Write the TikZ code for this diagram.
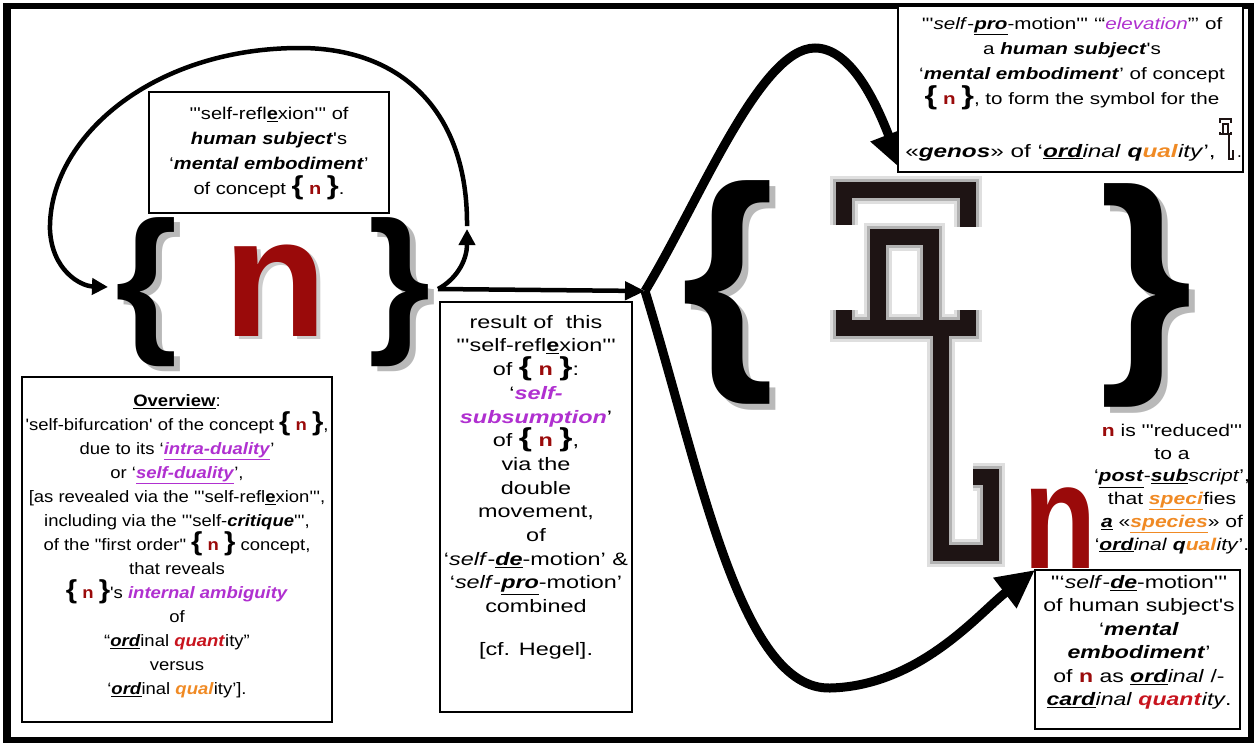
\documentclass[tikz,border=0pt]{standalone}
\usepackage{fontspec}
\setmainfont{Liberation Sans}[Ligatures=TeXOff]
\usepackage{graphicx}
\usetikzlibrary{arrows.meta}
\definecolor{nred}{HTML}{9A0A0A}
\definecolor{vio}{HTML}{B030D0}
\definecolor{orng}{HTML}{F08A24}
\definecolor{qred}{HTML}{C8141E}
\definecolor{glyphc}{HTML}{1E1414}
\newcommand\BI[1]{\textbf{\textit{#1}}}
\newcommand\UBI[1]{\underline{\textbf{\textit{#1}}}}
\newcommand\PB[1]{\textcolor{vio}{\textbf{\textit{#1}}}}
\newcommand\PU[1]{\textcolor{vio}{\underline{\textbf{\textit{#1}}}}}
\newcommand\brn{{\fontsize{26}{26}\selectfont\textbf{\{}} \textcolor{nred}{\textbf{n}} {\fontsize{26}{26}\selectfont\textbf{\}}}}
\newcommand\refl{'''self-refl\underline{\textbf{e}}xion'''}
\newcommand\ordglyph{%
  (11,45) -- (11,10) -- (135,10) -- (135,47)
  (45,57) rectangle (98,148)
  (11,130) -- (11,148) -- (135,148) -- (135,130)
  (108,148) -- (108,373) -- (158,373) -- (158,297) -- (140,297)}
\tikzset{
  txt/.style={align=center, inner sep=0pt, anchor=north, transform shape},
  box/.style={draw, line width=1.5pt, inner sep=0pt, fill=white},
  bigbr/.style={inner sep=0pt, font=\fontsize{160}{160}\selectfont\bfseries},
  hugebr/.style={inner sep=0pt, font=\fontsize{240}{240}\selectfont\bfseries},
  thinarr/.style={line width=4.5pt, -{Triangle[length=16pt,width=16pt]}},
  thickarr/.style={line width=9pt, -{Triangle[length=38pt,width=36pt]}},
}
\begin{document}
\begin{tikzpicture}[x=1pt,y=-1pt]
\useasboundingbox (0,0) rectangle (1257,745);
\fill[white] (0,0) rectangle (1257,745);
\draw[line width=6pt] (6,6) rectangle (1251,740);
\draw[line width=3pt] (9,6) -- (9,740);

% ---------- left group ----------
\node[bigbr, text=gray!55] (lbs) at (153,297) {\{};
\node[bigbr] (lb) at (147,292) {\{};
\node[bigbr, text=gray!55] (rbs) at (406,297) {\}};
\node[bigbr] (rb) at (400,292) {\}};
\node[inner sep=0pt, font=\fontsize{170}{170}\selectfont\bfseries, text=gray!40] (ns) at (279,294) {n};
\node[inner sep=0pt, font=\fontsize{170}{170}\selectfont\bfseries, text=nred] (n) at (275,291) {n};

% box A
\node[box, minimum width=240pt, minimum height=121pt] (boxA) at (269,152.5) {};
\begin{scope}[shift={(269,107)}, xscale=1.18]
\node[txt, font=\fontsize{17}{25}\selectfont] (tA) at (0,0) {\refl{} of\\
\BI{human subject}'s\\
‘\BI{mental embodiment}’\\
of concept \brn.};
\end{scope}

% arcs
\coordinate (jn) at (467,226);
\coordinate (rbout) at (438,289);
\coordinate (lbin) at (108,287);
\draw[thinarr] (jn) .. controls (468,110) and (400,48) .. (300,48)
  .. controls (150,48) and (48,140) .. (50,230)
  .. controls (52,270) and (80,286) .. (lbin);
\draw[thinarr] (rbout) .. controls (455,280) and (467,262) .. (467,229);

% overview box
\node[box, minimum width=310pt, minimum height=345pt] (boxO) at (177,549.5) {};
\begin{scope}[shift={(177,394)}, xscale=1.12]
\node[txt, font=\fontsize{16.5}{24}\selectfont] (tO) at (0,0) {\underline{\textbf{Overview}}:\\
'self-bifurcation' of the concept \brn,\\
due to its ‘\PU{intra-duality}’\\
or ‘\PU{self-duality}’,\\
{}[as revealed via the \refl,\\
including via the '''self-\BI{critique}''',\\
of the "first order" \brn\ concept,\\
that reveals\\
\brn's \PB{internal ambiguity}\\
of\\
“\UBI{ord}inal \textcolor{qred}{\BI{quant}}ity”\\
versus\\
‘\UBI{ord}inal \textcolor{orng}{\BI{qual}}ity’].};
\end{scope}

% horizontal arrow
\coordinate (vtx) at (645,291);
\draw[line width=4.5pt, -{Triangle[length=20pt,width=18pt]}] (rbout) -- (vtx);

% middle box
\node[box, minimum width=192pt, minimum height=410pt] (boxM) at (536,507) {};
\begin{scope}[shift={(536,315)}, xscale=1.3]
\node[txt, font=\fontsize{18}{23.7}\selectfont] (tM) at (0,0) {result of \ this\\
\refl\\
of \brn:\\
‘\PB{self-}\\
\PB{subsumption}’\\
of \brn,\\
via the\\
double\\
movement,\\
of\\
‘\textit{self}-\UBI{de}-motion’ \&\\
‘\textit{self}-\UBI{pro}-motion’\\
combined\\[19pt]
{}[cf. Hegel].};
\end{scope}

% right V arrows
\coordinate (tip1) at (902,170);
\coordinate (tip2) at (1035,570);
\draw[thickarr] (vtx) .. controls (700,200) and (760,48) .. (815,48)
  .. controls (850,48) and (875,100) .. (tip1);
\draw[thickarr] (vtx) .. controls (700,470) and (740,690) .. (830,688)
  .. controls (920,686) and (980,612) .. (tip2);

% right group braces
\node[hugebr, text=gray!55] (Lbs) at (734,298) {\{};
\node[hugebr] (Lb) at (728,292) {\{};
\node[hugebr, text=gray!55] (Rbs) at (1152,301) {\}};
\node[hugebr] (Rb) at (1146,295) {\}};

% big glyph
\begin{scope}[shift={(833,180)}, line join=miter]
  \draw[line width=28pt, gray!25] \ordglyph;
  \draw[line width=22pt, gray!60] \ordglyph;
  \draw[line width=16pt, glyphc] \ordglyph;
\end{scope}
\begin{scope}[shift={(1060,528)}, xscale=0.8]
\node[inner sep=0pt, font=\fontsize{150}{150}\selectfont\bfseries, text=nred, transform shape] (n2) at (0,0) {n};
\end{scope}

% top right box
\node[box, minimum width=345pt, minimum height=166pt] (boxT) at (1070.5,89) {};
\begin{scope}[shift={(1072,17)}, xscale=1.25]
\node[txt, font=\fontsize{16.5}{25}\selectfont] (tT) at (0,0) {'''\textit{self}-\UBI{pro}-motion''' ‘“\textcolor{vio}{\textit{elevation}}”’ of\\
a \BI{human subject}'s\\
‘\BI{mental embodiment}’ of concept\\
\brn, to form the symbol for the};
\end{scope}
\begin{scope}[shift={(1216,157)}, xscale=1.35]
\node[inner sep=0pt, anchor=base east, transform shape, font=\fontsize{18}{25}\selectfont] (tT5) at (0,0) {«\BI{genos}» of ‘\UBI{ord}\textit{inal} \BI{q}\textcolor{orng}{\BI{ual}}\textit{ity}’,};
\end{scope}
\begin{scope}[shift={(1219,118)}, xscale=0.09, yscale=0.11]
  \draw[line width=2pt, glyphc] \ordglyph;
\end{scope}
\node[inner sep=0pt, anchor=base west, font=\fontsize{17}{25}\selectfont] (dot) at (1237,157) {.};

% lower right text
\begin{scope}[shift={(1172,424)}, xscale=1.24]
\node[txt, font=\fontsize{17}{22.7}\selectfont] (tR) at (0,0) {\textcolor{nred}{\textbf{n}} is '''reduced'''\\
to a\\
‘\UBI{post}-\UBI{sub}\textit{script}’,\\
that \textcolor{orng}{\UBI{speci}}fies\\
\UBI{a} «\textcolor{orng}{\UBI{species}}» of\\
‘\UBI{ord}\textit{inal} \BI{q}\textcolor{orng}{\BI{ual}}\textit{ity}’.};
\end{scope}

% lower right box
\node[box, minimum width=205pt, minimum height=159pt] (boxL) at (1137.5,649.5) {};
\begin{scope}[shift={(1139,575)}, xscale=1.28]
\node[txt, font=\fontsize{18}{23.5}\selectfont] (tL) at (0,0) {''‘\textit{self}-\UBI{de}-motion'''\\
of human subject's\\
‘\BI{mental}\\
\BI{embodiment}’\\
of \textcolor{nred}{\textbf{n}} as \UBI{ord}\textit{inal} /-\\
\UBI{card}\textit{inal} \textcolor{qred}{\BI{quant}}\textit{ity}.};
\end{scope}
\end{tikzpicture}
\end{document}
